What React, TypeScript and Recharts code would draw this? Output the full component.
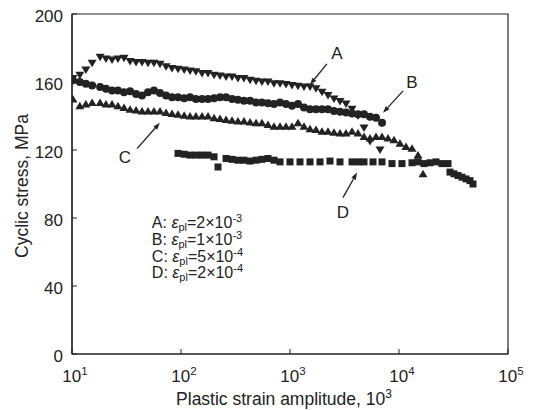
import React from 'react';
import {
  ScatterChart, Scatter, XAxis, YAxis, ReferenceArea, ReferenceLine, ReferenceDot, Label,
} from 'recharts';

const FONT = '"Liberation Sans", Arial, Helvetica, sans-serif';
const INK = '#222';

// series A: eps_pl = 2e-3 (down triangles)
const aStrain = [10.2, 11.8, 13.4, 15.3, 18.1, 20.5, 23.3, 26.4, 30, 34.1, 38.7, 43.9, 49.8, 56.5, 64.2, 72.9, 82.7, 93.9, 107, 121, 137, 156, 177, 201, 228, 259, 294, 333, 378, 430, 488, 553, 628, 713, 810, 919, 1043, 1184, 1344, 1526, 1732, 1966, 2232, 2533, 2876, 3265, 3706, 4207, 4775, 5420, 6700];
const aStress = [162, 164, 167, 171, 174.5, 173.5, 173, 173.5, 174, 172, 171.5, 171.5, 171, 171, 170.5, 169, 168, 167.5, 167, 166.5, 166, 165, 165, 164, 163.5, 163, 163, 162, 162, 161, 160.5, 160, 160, 159, 159, 158.5, 158, 157.5, 157, 157, 156, 154, 152, 150, 148.5, 147, 144, 140, 133, 125, 120];

// series B: eps_pl = 1e-3 (circles)
const bStrain = [10.2, 11.8, 13.4, 15.3, 18.1, 20.5, 23.3, 26.4, 30, 34.1, 38.7, 43.9, 49.8, 56.5, 64.2, 72.9, 82.7, 93.9, 107, 121, 137, 156, 177, 201, 228, 259, 294, 333, 378, 430, 488, 553, 628, 713, 810, 919, 1043, 1184, 1344, 1526, 1732, 1966, 2232, 2533, 2876, 3265, 3706, 4207, 4775, 5420, 6152, 6983];
const bStress = [161, 160, 159, 158, 157, 156, 155, 155, 154, 154.5, 153, 152, 154, 155, 153.5, 152, 151, 151, 150.5, 151, 150, 150, 150, 150.5, 151, 151, 150, 149.5, 149, 149, 148, 148, 147.5, 147, 148, 147, 146, 147, 145, 144, 144, 144, 144, 143, 142.5, 142, 141.5, 141, 141, 139.5, 139, 136];

// series C: eps_pl = 5e-4 (up triangles)
const cStrain = [10.2, 11.8, 13.4, 15.3, 18.1, 20.5, 23.3, 26.4, 30, 34.1, 38.7, 43.9, 49.8, 56.5, 64.2, 72.9, 82.7, 93.9, 107, 121, 137, 156, 177, 201, 228, 259, 294, 333, 378, 430, 488, 553, 628, 713, 810, 919, 1043, 1184, 1344, 1526, 1732, 1966, 2232, 2533, 2876, 3265, 3706, 4207, 4775, 5420, 6152, 6983, 7927, 8998, 10210, 11590, 13160, 14940, 16610];
const cStress = [150, 146, 147, 148, 148, 147, 147, 146, 145, 144, 143.5, 143, 143, 143, 143, 142, 141.5, 141, 140.5, 140, 140, 140, 140, 139, 138.5, 138, 137.5, 137, 137, 136.5, 136, 136, 135, 134, 134, 134, 134, 136, 134, 132.5, 132, 131, 131, 130.5, 130, 130, 131, 130, 128, 127, 128, 128, 127, 126, 124, 122, 121, 117, 106];

// series D: eps_pl = 2e-4 (squares)
const dStrain = [93.9, 107, 121, 137, 156, 177, 201, 218.5, 259, 294, 333, 378, 430, 488, 553, 628, 713, 810, 1000, 1235, 1526, 1885, 2328, 2876, 3706, 4207, 4775, 5775, 6983, 8625, 10650, 13160, 14940, 16960, 19250, 21850, 24800, 28150, 29370, 31960, 34770, 37840, 41180, 44800, 47750];
const dStress = [118, 117.5, 117, 117, 117, 117, 116, 110, 115, 114.5, 114, 114, 113.5, 114, 114.5, 115, 114, 113, 113, 113, 113, 113, 113.5, 113, 113, 113, 113, 113, 113, 112, 112, 112.5, 113, 112, 112.5, 113, 112, 112, 107, 106, 105, 104, 103, 102, 100];

const xTicks = [10, 100, 1000, 10000, 100000];
const yTicks = [0, 40, 80, 120, 160, 200];

const legendLines = [
  { key: 'A', coef: '2', exp: '-3', y: 74 },
  { key: 'B', coef: '1', exp: '-3', y: 64 },
  { key: 'C', coef: '5', exp: '-4', y: 54 },
  { key: 'D', coef: '2', exp: '-4', y: 44.5 },
];

const callouts = [
  { text: 'A', at: { x: 2700, y: 176.5 }, from: { x: 2180, y: 170.7 }, to: { x: 1525, y: 158.4 } },
  { text: 'B', at: { x: 13150, y: 159.5 }, from: { x: 10900, y: 154.8 }, to: { x: 7130, y: 141.9 } },
  { text: 'C', at: { x: 30.6, y: 115.5 }, from: { x: 39.5, y: 120.8 }, to: { x: 64, y: 136 } },
  { text: 'D', at: { x: 3060, y: 83.3 }, from: { x: 3060, y: 92 }, to: { x: 4120, y: 106.7 } },
];

const zip = (xs: number[], ys: number[]) => xs.map((x, i) => ({ x, y: ys[i] }));

const DownTri = (p: any) => (
  <path d={`M${p.cx - 4.5},${p.cy - 3.5}L${p.cx + 4.5},${p.cy - 3.5}L${p.cx},${p.cy + 4}Z`} fill={INK} />
);
const UpTri = (p: any) => (
  <path d={`M${p.cx - 4.5},${p.cy + 3.5}L${p.cx + 4.5},${p.cy + 3.5}L${p.cx},${p.cy - 4}Z`} fill={INK} />
);
const Dot = (p: any) => <circle cx={p.cx} cy={p.cy} r={4} fill={INK} />;
const Sq = (p: any) => <rect x={p.cx - 3.5} y={p.cy - 3.5} width={7} height={7} fill={INK} />;

const X_MARGIN = 22;
const XTick = (p: any) => {
  const axisY = p.y - X_MARGIN;
  const exp = Math.round(Math.log10(p.payload.value));
  return (
    <g>
      <line x1={p.x} x2={p.x} y1={axisY} y2={axisY - 5} stroke={INK} />
      <text x={p.x + 3} y={axisY + 28} textAnchor="middle" fontSize={17} fill={INK} fontFamily={FONT}>
        10<tspan dy={-7} fontSize={11.5}>{exp}</tspan>
      </text>
    </g>
  );
};

const Y_MARGIN = 9;
const YTick = (p: any) => {
  const axisX = p.x + Y_MARGIN;
  return (
    <g>
      <line x1={axisX} x2={axisX + 5} y1={p.y} y2={p.y} stroke={INK} />
      <text x={p.x} y={p.y + 8} textAnchor="end" fontSize={17} fill={INK} fontFamily={FONT}>
        {p.payload.value}
      </text>
    </g>
  );
};

const XTitle = (p: any) => {
  const vb = p.viewBox;
  return (
    <text x={vb.x + vb.width / 2 - 6} y={vb.y + 51} textAnchor="middle" fontSize={17.5} fill={INK} fontFamily={FONT}>
      Plastic strain amplitude, 10<tspan dy={-7} fontSize={12}>3</tspan>
    </text>
  );
};

const YTitle = (p: any) => {
  const vb = p.viewBox;
  const cx = 14;
  const cy = vb.y + vb.height / 2 + 2;
  return (
    <text x={cx} y={cy} transform={`rotate(-90 ${cx} ${cy})`} textAnchor="middle" dominantBaseline="central"
      fontSize={17.5} fill={INK} fontFamily={FONT}>
      Cyclic stress, MPa
    </text>
  );
};

const Arrow = (p: any) => {
  const { x1, y1, x2, y2 } = p;
  const ang = Math.atan2(y2 - y1, x2 - x1);
  const len = 7;
  const w = 2.5;
  const bx = x2 - len * Math.cos(ang);
  const by = y2 - len * Math.sin(ang);
  const nx = -Math.sin(ang) * w;
  const ny = Math.cos(ang) * w;
  return (
    <g>
      <line x1={x1} y1={y1} x2={bx} y2={by} stroke={INK} strokeWidth={1.3} />
      <path d={`M${x2},${y2}L${bx + nx},${by + ny}L${bx - nx},${by - ny}Z`} fill={INK} />
    </g>
  );
};

export default function App() {
  return (
    <div style={{ fontFamily: FONT }}>
      <ScatterChart width={544} height={402} margin={{ top: 6, right: 44, bottom: 0, left: 0 }}>
        <XAxis dataKey="x" type="number" scale="log" domain={[10, 100000]} ticks={xTicks}
          allowDataOverflow tickSize={0} tickMargin={X_MARGIN} tickLine={false} height={56}
          axisLine={{ stroke: INK, strokeWidth: 1.2 }} tick={<XTick />} interval={0}>
          <Label content={<XTitle />} />
        </XAxis>
        <YAxis dataKey="y" type="number" domain={[0, 200]} ticks={yTicks} width={64}
          tickSize={0} tickMargin={Y_MARGIN} tickLine={false}
          axisLine={{ stroke: INK, strokeWidth: 1.2 }} tick={<YTick />} interval={0}>
          <Label content={<YTitle />} />
        </YAxis>
        <ReferenceArea x1={10} x2={100000} y1={0} y2={200} fill="none" stroke={INK} strokeWidth={1.2} ifOverflow="visible" />
        <Scatter data={zip(aStrain, aStress)} shape={DownTri} isAnimationActive={false} />
        <Scatter data={zip(bStrain, bStress)} shape={Dot} isAnimationActive={false} />
        <Scatter data={zip(cStrain, cStress)} shape={UpTri} isAnimationActive={false} />
        <Scatter data={zip(dStrain, dStress)} shape={Sq} isAnimationActive={false} />
        {callouts.map((c) => (
          <ReferenceLine key={'l' + c.text} segment={[c.from, c.to]} shape={Arrow} ifOverflow="visible" />
        ))}
        {callouts.map((c) => (
          <ReferenceDot key={'t' + c.text} x={c.at.x} y={c.at.y} r={2}
            shape={(p: any) => (
              <text x={p.cx} y={p.cy} textAnchor="middle" dominantBaseline="central" fontSize={17} fill={INK} fontFamily={FONT}>
                {c.text}
              </text>
            )} />
        ))}
        {legendLines.map((l) => (
          <ReferenceDot key={'g' + l.key} x={54} y={l.y} r={2}
            shape={(p: any) => (
              <text x={p.cx} y={p.cy} fontSize={16} fill={INK} fontFamily={FONT}>
                {l.key}: <tspan fontStyle="italic">ε</tspan>
                <tspan fontSize={11} dy={3}>pl</tspan>
                <tspan dy={-3}>={l.coef}×10</tspan>
                <tspan fontSize={11} dy={-6}>{l.exp}</tspan>
              </text>
            )} />
        ))}
      </ScatterChart>
    </div>
  );
}
